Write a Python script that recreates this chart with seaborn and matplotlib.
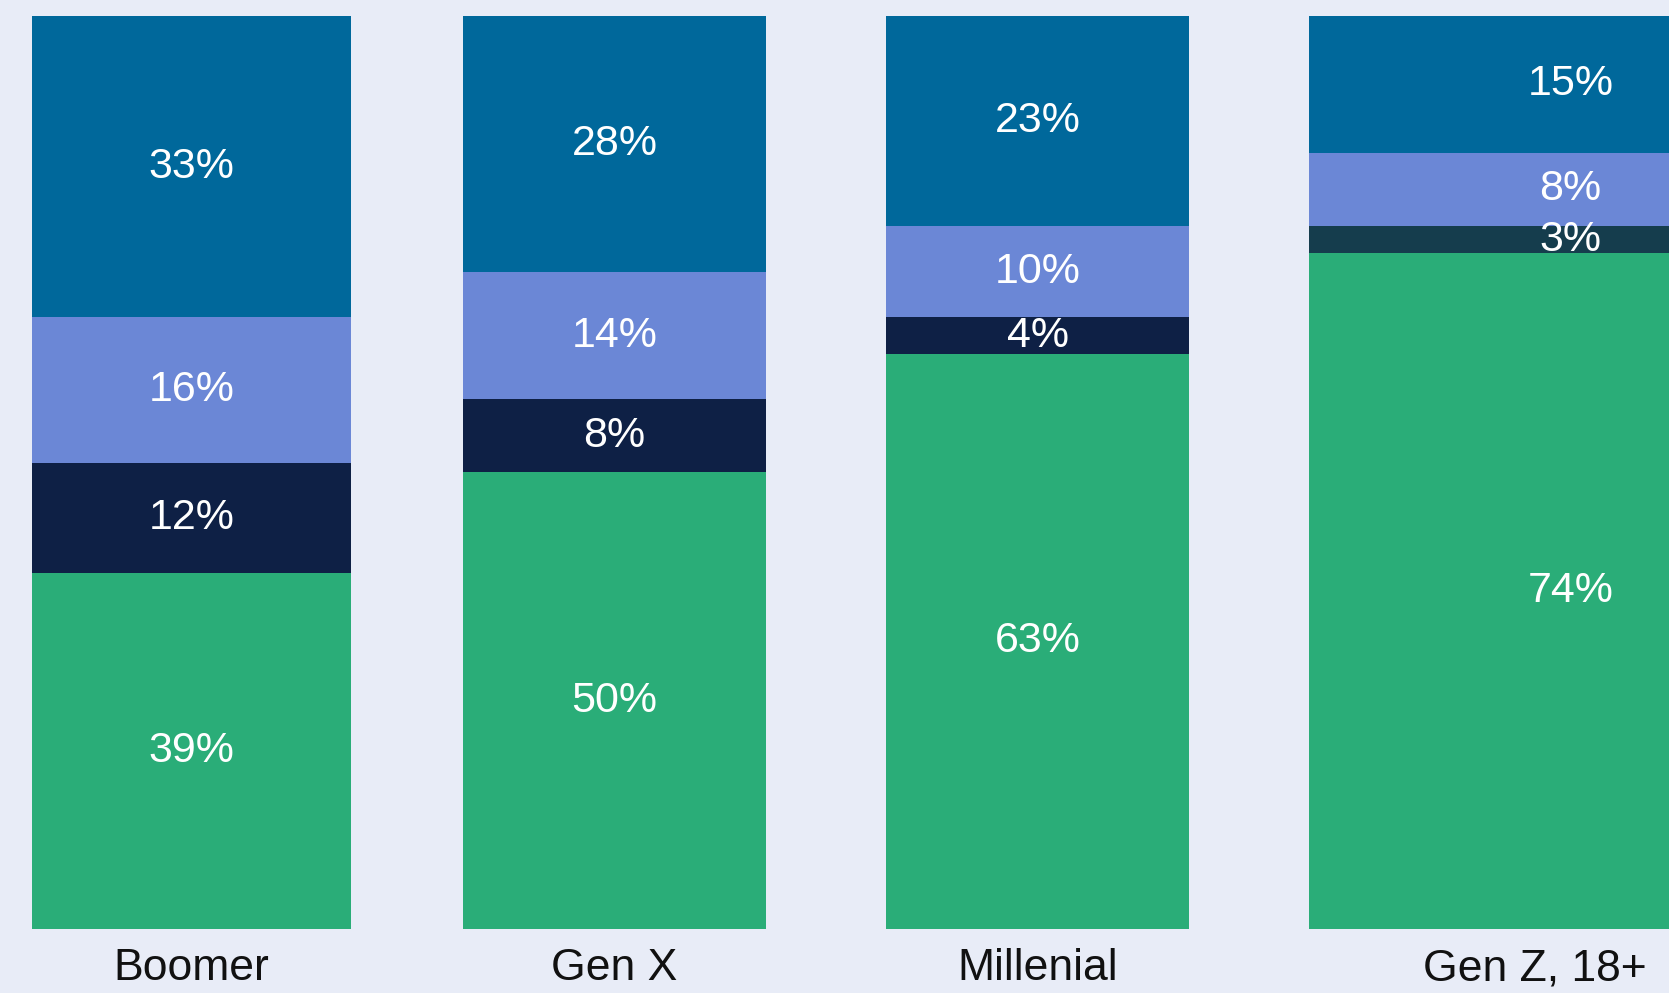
import matplotlib
matplotlib.use("Agg")
import matplotlib.pyplot as plt
import seaborn as sns
import pandas as pd

categories = ["Boomer", "Gen X", "Millenial", "Gen Z, 18+"]
green_vals = [39, 50, 63, 74]
navy_vals = [12, 8, 4, 3]
light_vals = [16, 14, 10, 8]
top_vals = [33, 28, 23, 15]

bg = "#E8ECF7"
c_top = "#00689B"
c_light = "#6B87D6"
c_navy = ["#0E2045", "#0E2045", "#0E2045", "#153D4D"]
c_green = "#2AAD78"

sns.set_theme(style="white")
plt.rcParams["font.family"] = ["Liberation Sans Narrow", "Liberation Sans", "DejaVu Sans"]

df = pd.DataFrame({"cat": categories, "green": green_vals, "navy": navy_vals,
                   "light": light_vals, "top": top_vals})
df["c1"] = df["green"]
df["c2"] = df["c1"] + df["navy"]
df["c3"] = df["c2"] + df["light"]
df["c4"] = df["c3"] + df["top"]

fig = plt.figure(figsize=(16.69, 9.93), dpi=100)
fig.patch.set_facecolor(bg)
ax = fig.add_axes([0, 64 / 993, 1, 913 / 993])
ax.set_facecolor(bg)

w = 0.715
kw = dict(width=w, saturation=1, linewidth=0, ax=ax)
sns.barplot(data=df, x="cat", y="c4", color=c_top, **kw)
sns.barplot(data=df, x="cat", y="c3", color=c_light, **kw)
sns.barplot(data=df, x="cat", y="c2", hue="cat", palette=c_navy, legend=False, **kw)
sns.barplot(data=df, x="cat", y="c1", color=c_green, **kw)

# first bar is a bit wider, last bar runs off the right edge in the original
for p in ax.patches:
    if p.get_x() < 0:
        p.set_x(-0.377)
        p.set_width(0.754)
    elif p.get_x() > 2.5:
        p.set_width(1.2)

# segment labels
for i in range(len(categories)):
    dx = 0.26 if i == 3 else 0
    segs = [(0, df["c1"][i], green_vals[i]), (df["c1"][i], df["c2"][i], navy_vals[i]),
            (df["c2"][i], df["c3"][i], light_vals[i]), (df["c3"][i], df["c4"][i], top_vals[i])]
    for lo, hi, v in segs:
        ax.text(i + dx, (lo + hi) / 2, f"{v}%", ha="center", va="center",
                color="white", fontsize=31)

ax.set_xlim(-0.453, 3.493)
ax.set_ylim(0, 100)
ax.set_xticks([0, 1, 2, 3.175])
ax.set_xticklabels(categories, fontsize=32, color="#111111")
ax.tick_params(axis="x", length=0, pad=14)
ax.set_yticks([])
ax.set_xlabel("")
ax.set_ylabel("")
sns.despine(ax=ax, left=True, bottom=True)

fig.savefig("out.png", dpi=100, facecolor=bg)
